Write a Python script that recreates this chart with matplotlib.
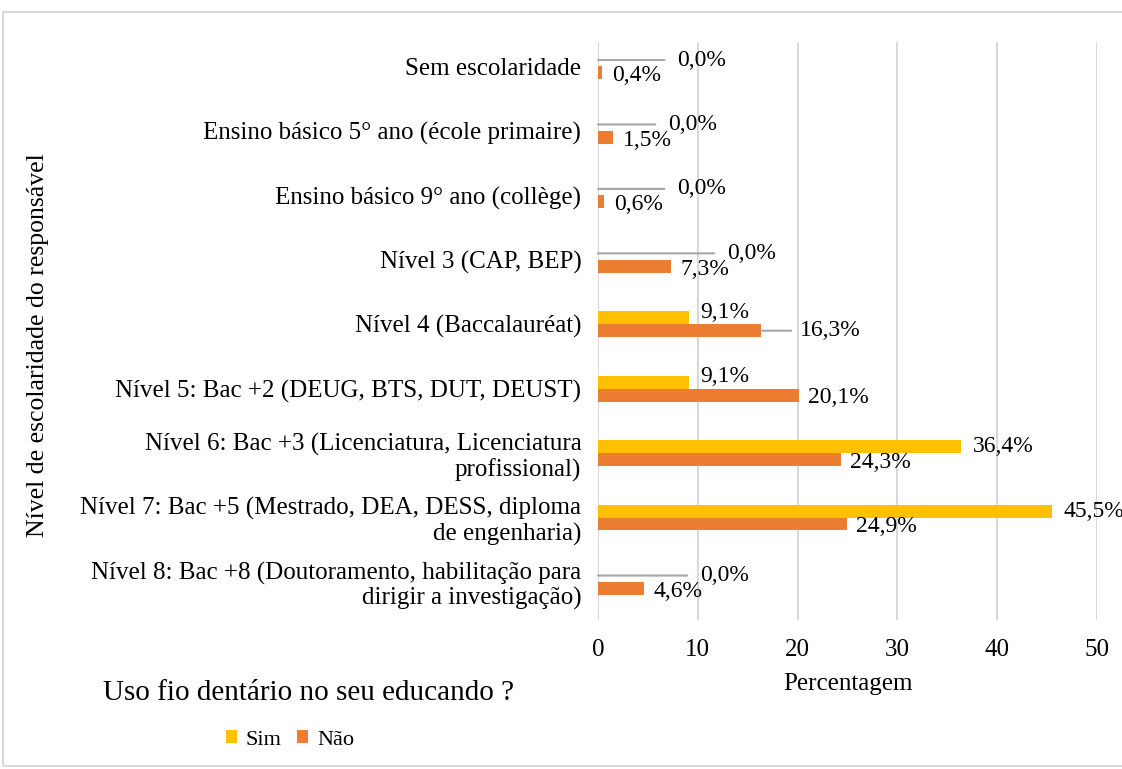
import matplotlib.pyplot as plt
from matplotlib.patches import Rectangle

plt.rcParams['font.family'] = ['Liberation Serif', 'DejaVu Serif']

categories = [
    'Sem escolaridade',
    'Ensino básico 5° ano (école primaire)',
    'Ensino básico 9° ano (collège)',
    'Nível 3 (CAP, BEP)',
    'Nível 4 (Baccalauréat)',
    'Nível 5: Bac +2 (DEUG, BTS, DUT, DEUST)',
    'Nível 6: Bac +3 (Licenciatura, Licenciatura\nprofissional)',
    'Nível 7: Bac +5 (Mestrado, DEA, DESS, diploma\nde engenharia)',
    'Nível 8: Bac +8 (Doutoramento, habilitação para\ndirigir a investigação)',
]
sim = [0.0, 0.0, 0.0, 0.0, 9.1, 9.1, 36.4, 45.5, 0.0]
nao = [0.4, 1.5, 0.6, 7.3, 16.3, 20.1, 24.3, 24.9, 4.6]

# where Excel put the dragged labels (data x), None = default
sim_label_x = [7.9, 7.0, 7.9, 12.9, None, None, None, None, 10.2]
nao_label_x = [None, None, None, None, 20.2, None, None, None, None]
sim_dy = [0, 0, 0, 0, 4, 4, 0, 0, 0]

c_sim = '#FFC000'
c_nao = '#ED7D31'
grey_line = '#A6A6A6'
fs = 18
fs_val = 17

fig = plt.figure(figsize=(11.22, 7.69), dpi=100)
ax = fig.add_axes([598 / 1122, 149 / 769, 499 / 1122, 578 / 769])

ypos = list(range(len(categories)))
h = 0.2
ax.barh([y - 0.1 for y in ypos], sim, height=h, color=c_sim, label='Sim', zorder=3)
ax.barh([y + 0.1 for y in ypos], nao, height=h, color=c_nao, label='Não', zorder=3)

def fmt(v):
    return f'{v:.1f}%'.replace('.', ',')

for i, y in enumerate(ypos):
    # Sim labels
    if sim_label_x[i] is None:
        ax.annotate(fmt(sim[i]), xy=(sim[i], y - 0.1), xytext=(8, sim_dy[i]),
                    textcoords='offset points', ha='left', va='center', fontsize=fs_val)
    else:
        ax.annotate(fmt(sim[i]), xy=(0, y - 0.1), xytext=(sim_label_x[i], y - 0.1),
                    textcoords='data', ha='left', va='center', fontsize=fs_val,
                    arrowprops=dict(arrowstyle='-', color=grey_line, lw=1.5,
                                    shrinkA=7, shrinkB=0), zorder=4)
    # Não labels
    if nao_label_x[i] is None:
        ax.annotate(fmt(nao[i]), xy=(nao[i], y + 0.1), xytext=(7, -2),
                    textcoords='offset points', ha='left', va='center', fontsize=fs_val)
    else:
        ax.annotate(fmt(nao[i]), xy=(nao[i], y + 0.1), xytext=(nao_label_x[i], y + 0.1),
                    textcoords='data', ha='left', va='center', fontsize=fs_val,
                    arrowprops=dict(arrowstyle='-', color=grey_line, lw=1.5,
                                    shrinkA=4, shrinkB=0))

ax.set_xlim(0, 50)
ax.set_ylim(8.59, -0.38)
ax.set_xticks([0, 10, 20, 30, 40, 50])
ax.set_yticks(ypos)
ax.set_yticklabels(categories, ha='right', fontsize=fs, linespacing=1.15)
ax.tick_params(axis='y', length=0, pad=12)
ax.tick_params(axis='x', length=0, pad=14, labelsize=fs)
ax.grid(axis='x', color='#D9D9D9', lw=1.5, zorder=0)
for s in ax.spines.values():
    s.set_visible(False)

ax.set_xlabel('Percentagem', fontsize=fs, labelpad=8)
fig.text(38 / 1122, 1 - 345 / 769, 'Nível de escolaridade do responsável',
         rotation=90, ha='center', va='center', fontsize=18.5)
fig.text(103 / 1122, 1 - 693 / 769, 'Uso fio dentário no seu educando ?',
         ha='left', va='center', fontsize=21)

fig.legend(loc='center', bbox_to_anchor=(290 / 1122, 1 - 740 / 769), ncol=2,
           frameon=False, fontsize=16, handlelength=0.5, handleheight=0.5,
           handletextpad=0.4, columnspacing=0.7)

fig.patches.append(Rectangle((3 / 1122, 3 / 769), 1.0, 1 - 15 / 769,
                             transform=fig.transFigure, fill=False,
                             edgecolor='#D9D9D9', lw=1.5))

fig.savefig('out.png', dpi=100)
